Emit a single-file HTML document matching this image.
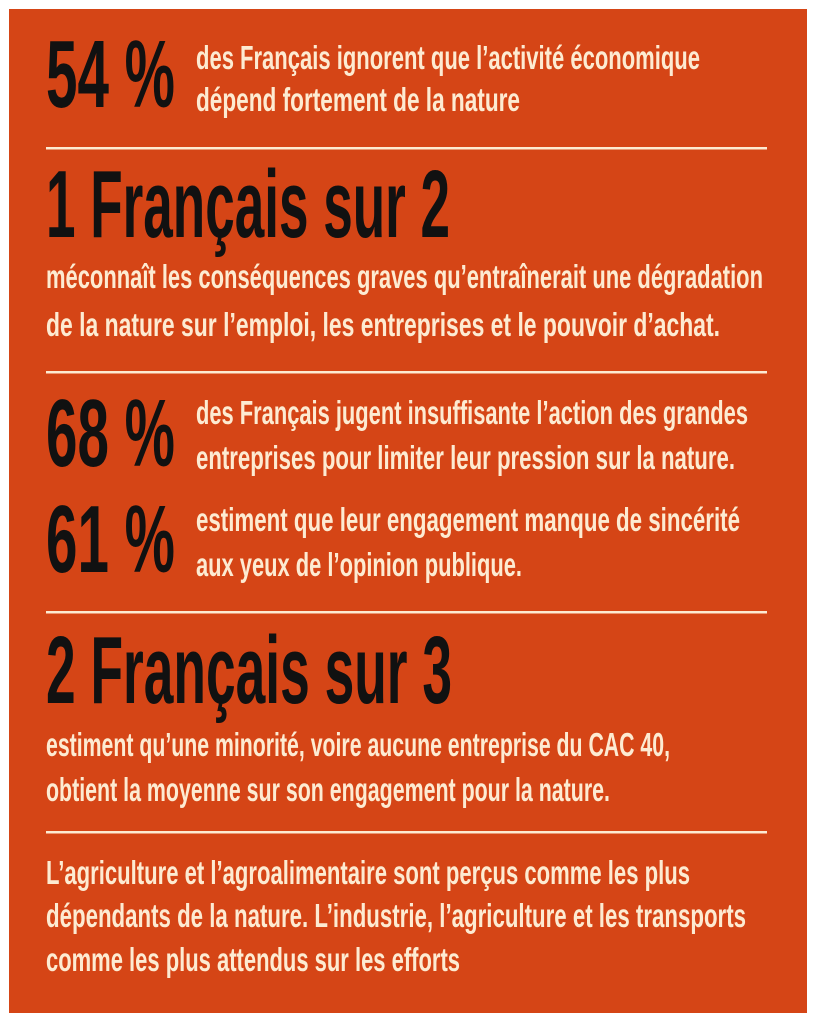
<!DOCTYPE html>
<html><head><meta charset="utf-8"><style>
html,body{margin:0;padding:0;background:#fff;width:815px;height:1024px;overflow:hidden}
svg{display:block}
.b{font-family:"Liberation Sans",sans-serif;font-weight:bold;fill:#111}
.s{font-family:"Liberation Sans",sans-serif;font-weight:bold;fill:#fdebd2;font-size:33px}
</style></head><body>
<svg width="815" height="1024" viewBox="0 0 815 1024">
<rect x="9" y="9" width="798" height="1004" fill="#d54516"/>
<g fill="#fdebd2">
<rect x="46" y="147" width="721" height="2.5"/>
<rect x="46" y="371" width="721" height="2.5"/>
<rect x="46" y="611" width="721" height="2.5"/>
<rect x="46" y="831" width="721" height="2.5"/>
</g>
<text class="b" x="46" y="107" font-size="96" textLength="129" lengthAdjust="spacingAndGlyphs">54 %</text>
<text class="s" x="196" y="69" textLength="504" lengthAdjust="spacingAndGlyphs">des Français ignorent que l’activité économique</text>
<text class="s" x="196" y="111" textLength="324" lengthAdjust="spacingAndGlyphs">dépend fortement de la nature</text>

<text class="b" x="46" y="237" font-size="96" textLength="404" lengthAdjust="spacingAndGlyphs">1 Français sur 2</text>
<text class="s" x="46" y="288" textLength="717" lengthAdjust="spacingAndGlyphs">méconnaît les conséquences graves qu’entraînerait une dégradation</text>
<text class="s" x="46" y="336" textLength="674" lengthAdjust="spacingAndGlyphs">de la nature sur l’emploi, les entreprises et le pouvoir d’achat.</text>

<text class="b" x="46" y="466" font-size="96" textLength="129" lengthAdjust="spacingAndGlyphs">68 %</text>
<text class="s" x="196" y="424" textLength="552" lengthAdjust="spacingAndGlyphs">des Français jugent insuffisante l’action des grandes</text>
<text class="s" x="196" y="469" textLength="539" lengthAdjust="spacingAndGlyphs">entreprises pour limiter leur pression sur la nature.</text>

<text class="b" x="46" y="572" font-size="96" textLength="129" lengthAdjust="spacingAndGlyphs">61 %</text>
<text class="s" x="196" y="531" textLength="544" lengthAdjust="spacingAndGlyphs">estiment que leur engagement manque de sincérité</text>
<text class="s" x="196" y="576" textLength="326" lengthAdjust="spacingAndGlyphs">aux yeux de l’opinion publique.</text>

<text class="b" x="46" y="703" font-size="96" textLength="406" lengthAdjust="spacingAndGlyphs">2 Français sur 3</text>
<text class="s" x="46" y="756" textLength="624" lengthAdjust="spacingAndGlyphs">estiment qu’une minorité, voire aucune entreprise du CAC 40,</text>
<text class="s" x="46" y="801" textLength="564" lengthAdjust="spacingAndGlyphs">obtient la moyenne sur son engagement pour la nature.</text>

<text class="s" x="46" y="884" textLength="644" lengthAdjust="spacingAndGlyphs">L’agriculture et l’agroalimentaire sont perçus comme les plus</text>
<text class="s" x="46" y="927" textLength="700" lengthAdjust="spacingAndGlyphs">dépendants de la nature. L’industrie, l’agriculture et les transports</text>
<text class="s" x="46" y="971" textLength="414" lengthAdjust="spacingAndGlyphs">comme les plus attendus sur les efforts</text>
</svg>
</body></html>
